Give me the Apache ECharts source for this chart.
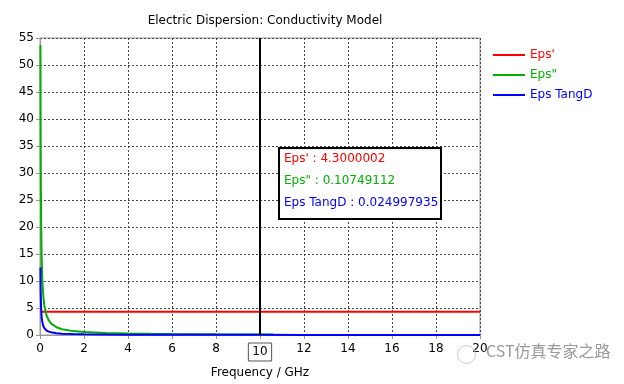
<!DOCTYPE html>
<html><head><meta charset="utf-8">
<script src="https://cdn.jsdelivr.net/npm/echarts@6/dist/echarts.min.js"></script>
<style>html,body{margin:0;padding:0;background:#fff}#c{width:624px;height:384px}</style>
</head><body><div id="c"></div>
<script>
const title = 'Electric Dispersion: Conductivity Model';
const xName = 'Frequency / GHz';
const seriesNames = ["Eps'", 'Eps"', 'Eps TangD'];
const seriesColors = ['#ff0000', '#00b000', '#0000ff'];
// Eps' (constant)
const epsRealF = [0.02, 20];
const epsRealV = [4.3000002, 4.3000002];
// Eps'' sample points
const epsImagF = [0.02, 0.03, 0.04, 0.05, 0.075, 0.1, 0.15, 0.2, 0.3, 0.4, 0.5, 0.75, 1, 1.5, 2, 3, 4, 5, 6, 8, 10, 10.6];
const epsImagV = [53.7, 35.8, 26.9, 21.5, 14.3, 10.75, 7.17, 5.38, 3.58, 2.69, 2.15, 1.43, 1.075, 0.72, 0.54, 0.36, 0.27, 0.215, 0.18, 0.134, 0.1075, 0.101];
// Eps TangD sample points
const tanDF = [0.02, 0.03, 0.04, 0.05, 0.075, 0.1, 0.15, 0.2, 0.3, 0.4, 0.5, 0.75, 1, 1.5, 2, 3, 4, 5, 6, 8, 10, 12, 14, 16, 18, 20];
const tanDV = [12.5, 8.33, 6.25, 5.0, 3.33, 2.5, 1.67, 1.25, 0.83, 0.625, 0.5, 0.333, 0.25, 0.167, 0.125, 0.083, 0.0625, 0.05, 0.042, 0.031, 0.025, 0.021, 0.018, 0.016, 0.014, 0.0125];
const markerX = 10;
const readout = ["Eps' : 4.3000002", 'Eps" : 0.10749112', 'Eps TangD : 0.024997935'];

const zip = (a, b) => a.map((v, i) => [v, b[i]]);
const font = 'Tahoma, "DejaVu Sans", sans-serif';
const chart = echarts.init(document.getElementById('c'));
chart.setOption({
  animation: false,
  backgroundColor: '#fff',
  title: { text: title, left: 260, top: 10, textAlign: 'center',
    textStyle: { fontSize: 12, fontWeight: 'normal', color: '#000', fontFamily: font } },
  legend: {
    orient: 'vertical', left: 488, top: 44, itemWidth: 32, itemHeight: 2, itemGap: 8,
    icon: 'rect',
    data: seriesNames.map((n, i) => ({ name: n, textStyle: { color: seriesColors[i] } })),
    textStyle: { fontSize: 12, fontFamily: font }
  },
  grid: { left: 40, right: 144, top: 38, bottom: 48, show: true, borderColor: '#999', borderWidth: 1 },
  xAxis: {
    type: 'value', min: 0, max: 20, interval: 2,
    name: xName, nameLocation: 'middle', nameGap: 32,
    nameTextStyle: { fontSize: 12, color: '#000', fontFamily: font },
    axisLine: { show: true, lineStyle: { color: '#999' } },
    axisTick: { show: true, length: 4, lineStyle: { color: '#999' } },
    axisLabel: { fontSize: 12, color: '#000', fontFamily: font, margin: 8,
      formatter: v => v === markerX ? '{hl|' + v + '}' : String(v),
      rich: { hl: { borderColor: '#555', borderWidth: 1, padding: [3, 4, 3, 4], fontSize: 12, color: '#000', fontFamily: font } } },
    splitLine: { show: true, lineStyle: { color: '#444', type: [2, 2], width: 1 } }
  },
  yAxis: {
    type: 'value', min: 0, max: 55, interval: 5,
    axisLine: { show: true, lineStyle: { color: '#999' } },
    axisTick: { show: true, length: 4, lineStyle: { color: '#999' } },
    axisLabel: { fontSize: 12, color: '#000', fontFamily: font, margin: 6 },
    splitLine: { show: true, lineStyle: { color: '#444', type: [2, 2], width: 1 } }
  },
  series: [
    { name: seriesNames[0], type: 'line', data: zip(epsRealF, epsRealV), showSymbol: false,
      lineStyle: { color: seriesColors[0], width: 2 }, itemStyle: { color: seriesColors[0] },
      markLine: { silent: true, symbol: 'none', label: { show: false },
        lineStyle: { color: '#000', width: 2, type: 'solid' }, data: [{ xAxis: markerX }] } },
    { name: seriesNames[1], type: 'line', data: zip(epsImagF, epsImagV), showSymbol: false, smooth: false,
      lineStyle: { color: seriesColors[1], width: 2 }, itemStyle: { color: seriesColors[1] } },
    { name: seriesNames[2], type: 'line', data: zip(tanDF, tanDV), showSymbol: false,
      lineStyle: { color: seriesColors[2], width: 2 }, itemStyle: { color: seriesColors[2] } }
  ],
  graphic: [
    { type: 'rect', left: 278, top: 147, shape: { width: 162, height: 71 },
      style: { fill: '#fff', stroke: '#000', lineWidth: 2 }, z: 100 },
    { type: 'text', left: 284, top: 153, z: 101, style: { text: readout[0], fill: seriesColors[0], font: '12px ' + font } },
    { type: 'text', left: 284, top: 175, z: 101, style: { text: readout[1], fill: seriesColors[1], font: '12px ' + font } },
    { type: 'text', left: 284, top: 197, z: 101, style: { text: readout[2], fill: seriesColors[2], font: '12px ' + font } },
    { type: 'circle', left: 455, top: 343, shape: { r: 9 }, style: { fill: 'none', stroke: '#ccc', lineWidth: 1 }, z: 50 },
    { type: 'text', left: 486, top: 343, z: 50, style: { text: 'CST仿真专家之路', fill: '#999', font: '16px "Noto Sans CJK SC", sans-serif' } }
  ]
});
</script></body></html>
